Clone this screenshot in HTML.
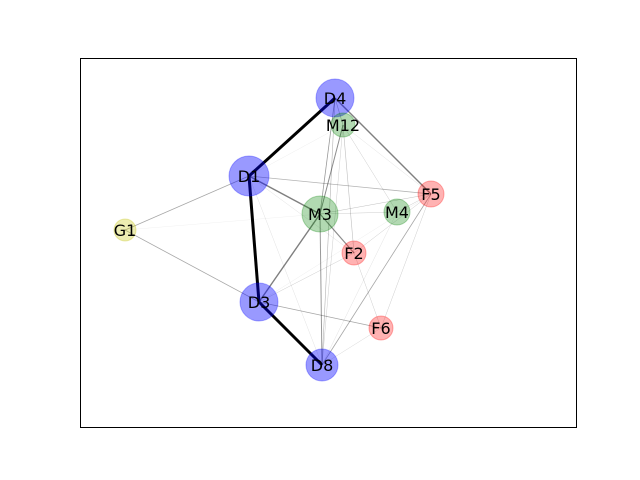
<!DOCTYPE html>
<html><head><meta charset="utf-8"><style>
body{margin:0;background:#fff}
svg{display:block}
text{font-family:"DejaVu Sans","Liberation Sans",sans-serif;font-size:16px}
</style></head><body>
<svg id="chart" width="640" height="480" viewBox="0 0 640 480">
<rect x="80.5" y="58.5" width="496" height="369" fill="#fff" stroke="#000" stroke-width="1"/>
<g id="edges"></g>
<g id="nodes"></g>
</svg>
<script>
const nodeNames=["D4","M12","D1","M3","M4","F5","F2","G1","D3","F6","D8"];
const nodeX=[335,343,249,320,397,431,354,125,259,381,322];
const nodeY=[98,125,176,214,212,194,253,230,302,328,365];
const nodeSize=[19,12,20,18,13,13,12,11,19,12,16];
const nodeGroup=["D","M","D","M","M","F","F","G","D","F","D"];
const edgeFrom=["D4","D1","D3","D4","D1","D3","M12","M3","M3","G1","G1","D1","D3","F5","D4","D4","M12","M12","M12","M3","M3","M4","F5","F5","F2","F2","D1","D1","G1","F6","M4","D4","M12","D1","D3"];
const edgeTo=  ["D1","D3","D8","F5","M3","M3","M3","D8","F2","D1","D3","F5","F6","D8","M3","D8","F2","M4","D8","M4","F5","F5","F2","F6","D3","F6","F2","D8","M3","D8","D8","M12","F5","M12","F5"];
const edgeW=   [3,3,3,1.4,1.4,1.4,1,1,1.2,0.8,0.8,0.8,0.8,0.8,0.8,0.6,0.6,0.5,0.5,0.5,0.5,0.5,0.5,0.5,0.5,0.5,0.4,0.4,0.3,0.4,0.4,0.6,0.4,0.3,0.3];
const edgeA=   [1,1,1,0.5,0.5,0.5,0.45,0.4,0.45,0.35,0.35,0.3,0.35,0.35,0.4,0.3,0.25,0.2,0.2,0.2,0.25,0.2,0.2,0.2,0.2,0.2,0.15,0.15,0.1,0.2,0.15,0.3,0.15,0.12,0.12];
const colors={D:"#0000ff",M:"#008000",F:"#ff0000",G:"#bfbf00"};
const NS="http://www.w3.org/2000/svg";
const eg=document.getElementById("edges"),ng=document.getElementById("nodes");
function idx(n){return nodeNames.indexOf(n);}
edgeFrom.forEach((f,i)=>{
 const a=idx(f),b=idx(edgeTo[i]);
 const l=document.createElementNS(NS,"line");
 l.setAttribute("x1",nodeX[a]);l.setAttribute("y1",nodeY[a]);
 l.setAttribute("x2",nodeX[b]);l.setAttribute("y2",nodeY[b]);
 l.setAttribute("stroke","#000");l.setAttribute("stroke-width",edgeW[i]);
 l.setAttribute("stroke-opacity",edgeA[i]);
 
 
 eg.appendChild(l);
});
nodeNames.forEach((n,i)=>{
 const c=document.createElementNS(NS,"circle");
 c.setAttribute("cx",nodeX[i]);c.setAttribute("cy",nodeY[i]);c.setAttribute("r",nodeSize[i]);
 const col=colors[nodeGroup[i]];
 c.setAttribute("fill",col);c.setAttribute("fill-opacity",nodeGroup[i]==="D"?0.4:0.3);
 c.setAttribute("stroke",col);c.setAttribute("stroke-opacity",0.3);
 
 
 ng.appendChild(c);
});
nodeNames.forEach((n,i)=>{
 const t=document.createElementNS(NS,"text");
 t.setAttribute("x",nodeX[i]);t.setAttribute("y",nodeY[i]+6);
 t.setAttribute("text-anchor","middle");t.textContent=n;
 
 
 ng.appendChild(t);
});
</script>
</body></html>
